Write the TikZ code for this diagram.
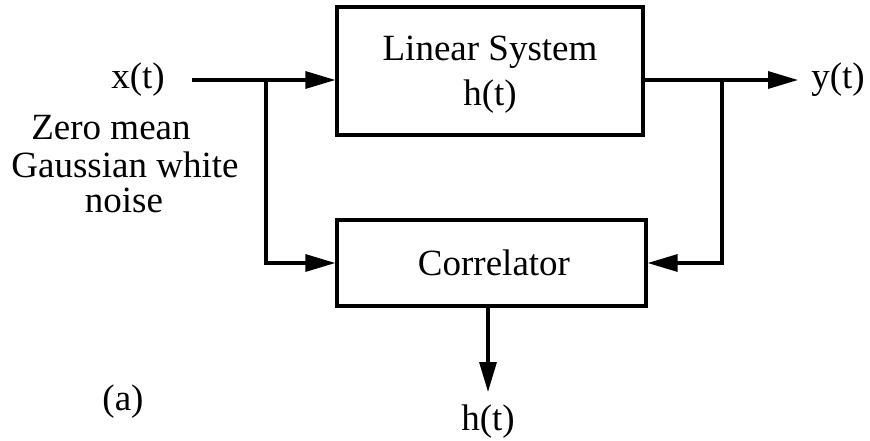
\documentclass[tikz,border=0pt]{standalone}
\usepackage{fontspec}
\setmainfont{Liberation Serif}
\usetikzlibrary{arrows.meta}
\begin{document}
\begin{tikzpicture}[x=1pt,y=-1pt,
  blk/.style={draw,line width=3.2pt,inner sep=0pt},
  lbl/.style={inner sep=0pt,font=\fontsize{37}{42}\selectfont},
  conn/.style={line width=3.2pt},
  arr/.style={conn,-{Triangle[length=30pt,width=17pt]}}]
\useasboundingbox (0,0) rectangle (870,441);
\node[blk,minimum width=306pt,minimum height=128pt] (lin) at (490,71) {};
\node[lbl] (lint1) at (490,52) {Linear System};
\node[lbl] (lint2) at (490,97) {h(t)};
\node[blk,minimum width=309pt,minimum height=86pt] (cor) at (491.5,263) {};
\node[lbl] (cort) at (494,263) {Correlator};
\node[lbl] (x) at (138,80) {x(t)};
\node[lbl] (z1) at (111,128) {Zero mean};
\node[lbl] (z2) at (125,165) {Gaussian white};
\node[lbl] (z3) at (124,200) {noise};
\node[lbl] (y) at (838,80) {y(t)};
\node[lbl] (h) at (488,422) {h(t)};
\node[lbl] (a) at (123,402) {(a)};
\coordinate (xs) at (192,80);
\coordinate (bx) at (266,80);
\coordinate (by) at (722,80);
\coordinate (yend) at (798,80);
\coordinate (hend) at (488,392);
\draw[arr] (xs) -- (lin.west |- xs);
\draw[arr] (bx) |- (cor.west |- 0,263);
\draw[arr] (lin.east |- yend) -- (yend);
\draw[arr] (by) |- (cor.east |- 0,263);
\draw[arr] (cor.south -| hend) -- (hend);
\end{tikzpicture}
\end{document}
